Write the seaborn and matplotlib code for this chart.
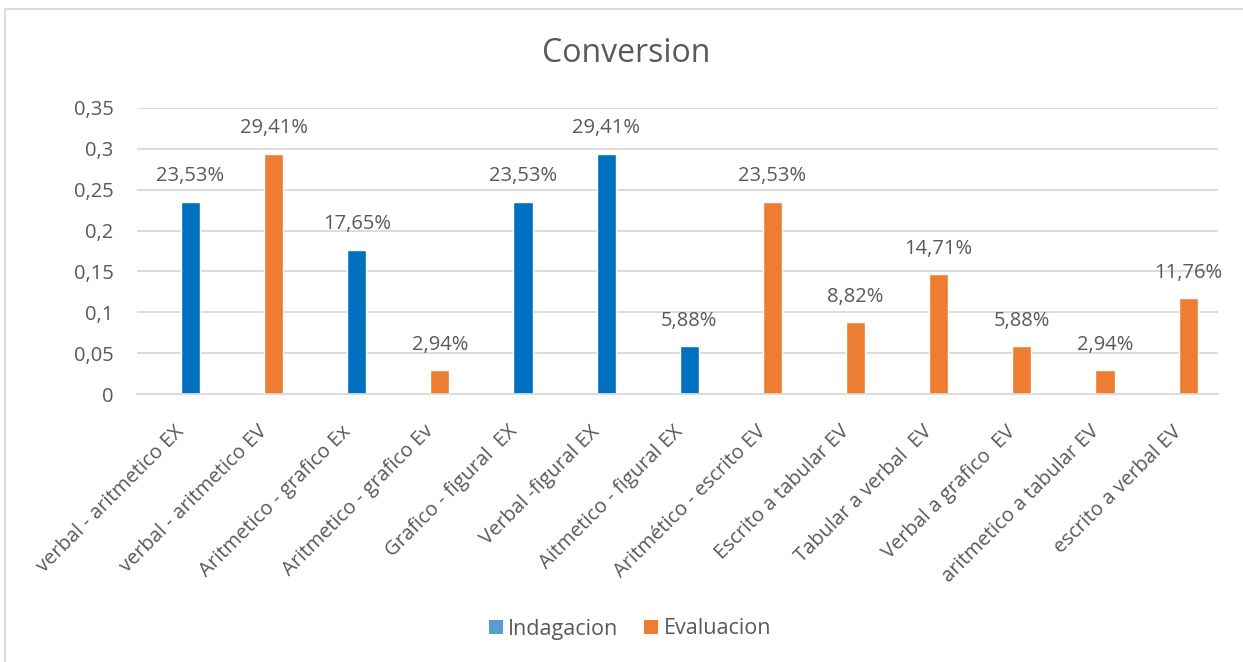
import matplotlib
matplotlib.use("Agg")
import matplotlib.pyplot as plt
from matplotlib.patches import Rectangle, Patch
from matplotlib.transforms import ScaledTranslation
import seaborn as sns
import pandas as pd

categories = [
    "verbal - aritmetico EX",
    "verbal - aritmetico EV",
    "Aritmetico - grafico Ex",
    "Aritmetico - grafico Ev",
    "Grafico - figural  EX",
    "Verbal -figural EX",
    "Aitmetico - figural EX",
    "Aritmético - escrito EV",
    "Escrito a tabular EV",
    "Tabular a verbal  EV",
    "Verbal a grafico  EV",
    "aritmetico a tabular EV",
    "escrito a verbal EV",
]
series_names = ["Indagacion", "Evaluacion"]
indagacion = [0.2353, None, 0.1765, None, 0.2353, 0.2941, 0.0588,
              None, None, None, None, None, None]
evaluacion = [None, 0.2941, None, 0.0294, None, None, None,
              0.2353, 0.0882, 0.1471, 0.0588, 0.0294, 0.1176]
y_ticks = [0, 0.05, 0.1, 0.15, 0.2, 0.25, 0.3, 0.35]

rows = []
for cat, a, b in zip(categories, indagacion, evaluacion):
    if a is not None:
        rows.append((cat, series_names[0], a))
    if b is not None:
        rows.append((cat, series_names[1], b))
df = pd.DataFrame(rows, columns=["categoria", "serie", "valor"])

BLUE = "#0070C0"
ORANGE = "#ED7D31"
TEXT = "#595959"
GRID = "#D9D9D9"

sns.set_theme(style="white")
plt.rcParams["font.family"] = ["Open Sans", "DejaVu Sans"]

W, H = 1243, 662
fig = plt.figure(figsize=(W / 100, H / 100), dpi=100)
ax = fig.add_axes([137 / W, 1 - 394 / H, (1218 - 137) / W, (394 - 108) / H])

sns.barplot(data=df, x="categoria", y="valor", hue="serie", order=categories,
            hue_order=series_names, palette=[BLUE, ORANGE], dodge=False,
            width=0.23, saturation=1, errorbar=None, legend=False, ax=ax)

ax.set_ylim(0, 0.35)
ax.set_xlim(-0.644, 12.36)
ax.set_yticks(y_ticks)
ax.set_yticklabels([("%g" % v).replace(".", ",") for v in y_ticks])
ax.yaxis.grid(True, color=GRID, linewidth=1.3)
ax.set_axisbelow(True)
for s in ["left", "right", "top"]:
    ax.spines[s].set_visible(False)
ax.spines["bottom"].set_color(GRID)
ax.spines["bottom"].set_linewidth(1.3)
ax.set_xlabel("")
ax.set_ylabel("")
ax.tick_params(axis="y", length=0, pad=17, labelsize=14.5, labelcolor=TEXT)
ax.tick_params(axis="x", length=0, pad=25, labelsize=14.5, labelcolor=TEXT)
shift = ScaledTranslation(-9 / 100, 0, fig.dpi_scale_trans)
for lbl in ax.get_xticklabels():
    lbl.set_rotation(45)
    lbl.set_ha("right")
    lbl.set_va("center")
    lbl.set_rotation_mode("anchor")
    lbl.set_transform(lbl.get_transform() + shift)

# value labels above each bar
for p in ax.patches:
    h = p.get_height()
    if h != h or h == 0:
        continue
    txt = ("%.2f%%" % (h * 100)).replace(".", ",")
    ax.annotate(txt, (p.get_x() + p.get_width() / 2, h), xytext=(0, 11),
                textcoords="offset points", ha="center", va="bottom",
                fontsize=14.5, color=TEXT)

fig.text(626 / W, 1 - 53 / H, "Conversion", ha="center", va="center",
         fontsize=23, color=TEXT)

handles = [Patch(facecolor="#5B9BD5", edgecolor="none"),
           Patch(facecolor=ORANGE, edgecolor="none")]
fig.legend(handles, series_names, loc="center", bbox_to_anchor=(630 / W, 1 - 629 / H),
           ncol=2, frameon=False, fontsize=15.5, labelcolor=TEXT,
           handlelength=0.65, handleheight=0.65, handletextpad=0.25, columnspacing=1.2)

fig.add_artist(Rectangle((5 / W, -0.1), 2, 1 - 9 / H + 0.1, transform=fig.transFigure,
                         fill=False, edgecolor=GRID, linewidth=1.3))

fig.savefig("out.png", dpi=100, facecolor="white")
